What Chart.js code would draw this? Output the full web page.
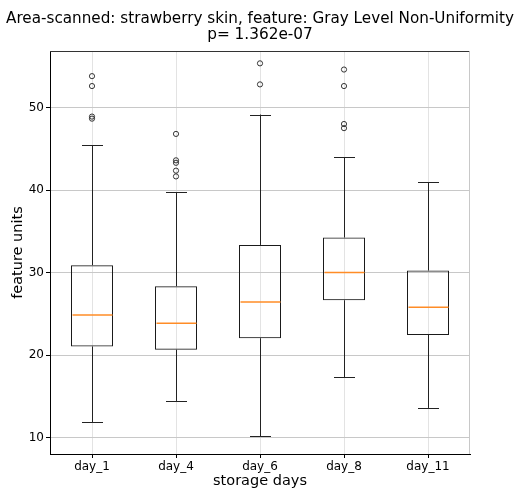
<!DOCTYPE html>
<html>
<head>
<meta charset="utf-8">
<script src="https://cdn.jsdelivr.net/npm/chart.js@4.4.1/dist/chart.umd.min.js"></script>
<style>
  html, body { margin: 0; padding: 0; background: #fff; }
  #wrap { width: 514px; height: 493px; }
</style>
</head>
<body>
<div id="wrap"><canvas id="box"></canvas></div>
<script>
// values
const days = ['day_1', 'day_4', 'day_6', 'day_8', 'day_11'];
const q1 = [21.05, 20.65, 22.05, 26.65, 22.45];
const q3 = [30.9, 28.35, 33.35, 34.25, 30.25];
const medians = [24.85, 23.85, 26.45, 30.0, 25.8];
const lowWhisker = [11.9, 14.45, 10.2, 17.35, 13.6];
const highWhisker = [45.4, 39.75, 49.15, 44.0, 40.95];
const outliers = [
  [53.8, 52.6, 48.9, 48.65],
  [46.8, 43.6, 43.3, 42.35, 41.65],
  [55.35, 52.8],
  [54.6, 52.6, 48.0, 47.5],
  []
];
const yTicks = [10, 20, 30, 40, 50];

const outlierPoints = [];
outliers.forEach((list, i) => {
  list.forEach(v => outlierPoints.push({ x: days[i], y: v }));
});

// whiskers, caps, medians and the two missing spines
const boxExtras = {
  id: 'boxExtras',
  afterDatasetsDraw(chart) {
    const ctx = chart.ctx;
    const xs = chart.scales.x;
    const ys = chart.scales.y;
    const half = xs.width / days.length / 8;  // cap half width

    ctx.save();
    days.forEach((d, i) => {
      const cx = Math.round(xs.getPixelForValue(i)) + 0.5;
      ctx.lineWidth = 1;
      ctx.strokeStyle = '#222';
      ctx.beginPath();
      ctx.moveTo(cx, ys.getPixelForValue(q1[i]));
      ctx.lineTo(cx, ys.getPixelForValue(lowWhisker[i]));
      ctx.moveTo(cx, ys.getPixelForValue(q3[i]));
      ctx.lineTo(cx, ys.getPixelForValue(highWhisker[i]));
      let y = Math.round(ys.getPixelForValue(lowWhisker[i])) + 0.5;
      ctx.moveTo(cx - half, y);
      ctx.lineTo(cx + half, y);
      y = Math.round(ys.getPixelForValue(highWhisker[i])) + 0.5;
      ctx.moveTo(cx - half, y);
      ctx.lineTo(cx + half, y);
      ctx.stroke();

      ctx.lineWidth = 1.5;
      ctx.strokeStyle = '#ff8c26';
      ctx.beginPath();
      y = ys.getPixelForValue(medians[i]);
      ctx.moveTo(cx - 2 * half + 1, y);
      ctx.lineTo(cx + 2 * half - 1, y);
      ctx.stroke();
    });

    const a = chart.chartArea;
    ctx.lineWidth = 1;
    ctx.strokeStyle = '#333';
    ctx.beginPath();
    ctx.moveTo(a.left, Math.round(a.top) + 0.5);
    ctx.lineTo(a.right, Math.round(a.top) + 0.5);
    ctx.stroke();
    ctx.strokeStyle = '#c8c8c8';
    ctx.beginPath();
    ctx.moveTo(Math.round(a.right) - 0.5, a.top);
    ctx.lineTo(Math.round(a.right) - 0.5, a.bottom);
    ctx.stroke();
    ctx.restore();
  }
};

const font = 'DejaVu Sans';

new Chart(document.getElementById('box'), {
  type: 'bar',
  data: {
    labels: days,
    datasets: [{
      data: days.map((_, i) => [q1[i], q3[i]]),
      backgroundColor: 'rgba(0,0,0,0)',
      borderColor: '#1a1a1a',
      borderWidth: 1,
      borderSkipped: false,
      categoryPercentage: 1,
      barPercentage: 0.5,
      order: 2
    }, {
      type: 'line',
      data: outlierPoints,
      showLine: false,
      pointStyle: 'circle',
      pointRadius: 2.6,
      pointBorderWidth: 0.9,
      pointBorderColor: '#222',
      pointBackgroundColor: 'rgba(0,0,0,0)',
      order: 1
    }]
  },
  options: {
    responsive: true,
    maintainAspectRatio: false,
    animation: false,
    layout: { padding: { left: 6, right: 0, top: 0, bottom: 0 } },
    plugins: {
      legend: { display: false },
      tooltip: { enabled: false },
      title: {
        display: true,
        text: ['Area-scanned: strawberry skin, feature: Gray Level Non-Uniformity', 'p= 1.362e-07'],
        color: '#000',
        font: { family: font, size: 15.3, weight: 'normal', lineHeight: 1.05 },
        padding: { top: 11, bottom: 8 }
      }
    },
    scales: {
      x: {
        afterFit(scale) { scale.height = 39; },
        grid: { color: '#e3e3e3', tickColor: '#000', tickLength: 4, offset: false },
        border: { color: '#000', width: 1 },
        ticks: { color: '#000', font: { family: font, size: 12 }, padding: 2 },
        title: { display: true, text: 'storage days', color: '#000', font: { family: font, size: 14.5 }, padding: { top: 0, bottom: 3 } }
      },
      y: {
        min: 8.02,
        max: 56.83,
        afterFit(scale) { scale.width = 44; },
        afterBuildTicks(scale) { scale.ticks = yTicks.map(v => ({ value: v })); },
        grid: { color: '#c8c8c8', tickColor: '#000', tickLength: 4 },
        border: { color: '#000', width: 1 },
        ticks: { color: '#000', font: { family: font, size: 12 }, padding: 2 },
        title: { display: true, text: 'feature units', color: '#000', font: { family: font, size: 14.5 }, padding: { top: 4, bottom: 0 } }
      },
      // empty right margin, same width as the figure's
      right: {
        position: 'right',
        afterFit(scale) { scale.width = 44; },
        grid: { drawOnChartArea: false, drawTicks: false },
        border: { display: false },
        ticks: { display: false }
      }
    }
  },
  plugins: [boxExtras]
});
</script>
</body>
</html>
